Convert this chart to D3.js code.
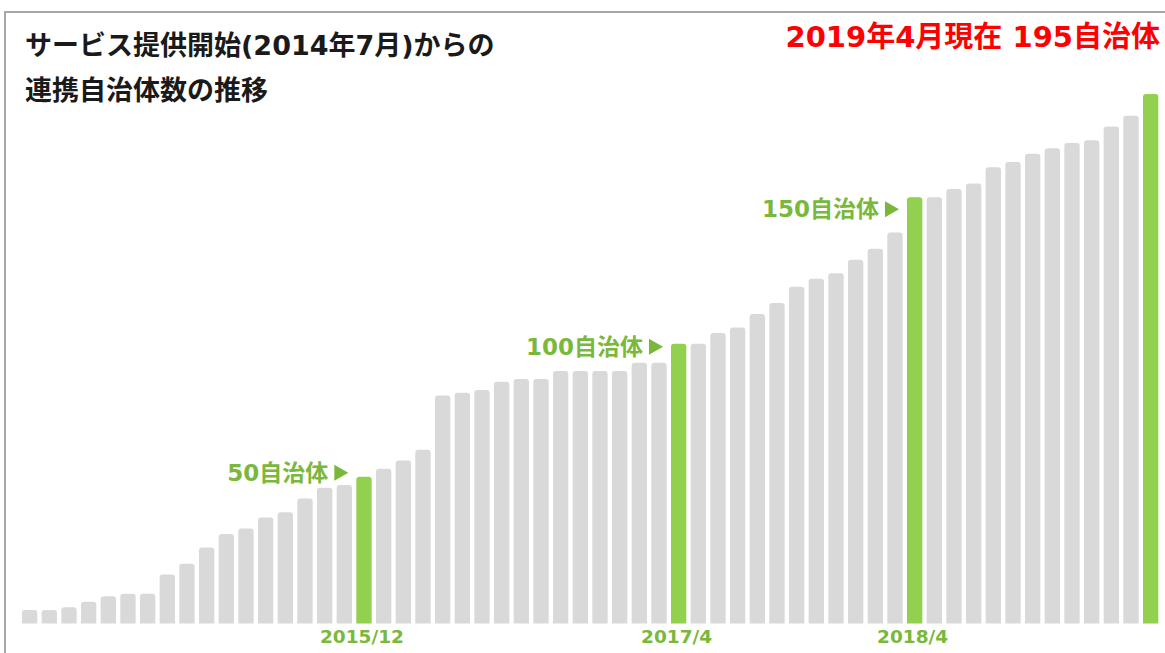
<!DOCTYPE html>
<html>
<head>
<meta charset="utf-8">
<title>連携自治体数の推移</title>
<style>
  body { margin: 0; background: #fff; }
  text { font-family: Verdana, "DejaVu Sans", "Noto Sans CJK JP", sans-serif; font-weight: bold; }
</style>
</head>
<body>
<script src="https://d3js.org/d3.v7.min.js"></script>
<script>
// months since service start (2014/7 .. 2019/4)
const months = [
  '2014/7','2014/8','2014/9','2014/10','2014/11','2014/12',
  '2015/1','2015/2','2015/3','2015/4','2015/5','2015/6','2015/7','2015/8','2015/9','2015/10','2015/11','2015/12',
  '2016/1','2016/2','2016/3','2016/4','2016/5','2016/6','2016/7','2016/8','2016/9','2016/10','2016/11','2016/12',
  '2017/1','2017/2','2017/3','2017/4','2017/5','2017/6','2017/7','2017/8','2017/9','2017/10','2017/11','2017/12',
  '2018/1','2018/2','2018/3','2018/4','2018/5','2018/6','2018/7','2018/8','2018/9','2018/10','2018/11','2018/12',
  '2019/1','2019/2','2019/3','2019/4'
];
// number of partner municipalities
const counts = [
  5, 5, 6, 8, 10, 11,
  11, 18, 22, 28, 33, 35, 39, 41, 46, 50, 51, 54,
  57, 60, 64, 84, 85, 86, 89, 90, 90, 93, 93, 93,
  93, 96, 96, 103, 103, 107, 109, 114, 118, 124, 127, 129,
  134, 138, 144, 157, 157, 160, 162, 168, 170, 173, 175, 177,
  178, 183, 187, 195
];
const highlight = ['2015/12', '2017/4', '2018/4', '2019/4'];
const milestoneMonths = ['2015/12', '2017/4', '2018/4'];
const milestoneTexts = ['50自治体', '100自治体', '150自治体'];
const axisTicks = ['2015/12', '2017/4', '2018/4'];

const W = 1165, H = 653;
const svg = d3.select('body').append('svg').attr('width', W).attr('height', H);

// frame
svg.append('line').attr('x1', 4).attr('x2', W).attr('y1', 12).attr('y2', 12)
  .attr('stroke', '#a6a6a6').attr('stroke-width', 2);
svg.append('line').attr('x1', 5).attr('x2', 5).attr('y1', 11).attr('y2', H)
  .attr('stroke', '#a6a6a6').attr('stroke-width', 2);

const x = d3.scaleBand().domain(months).range([19.8, 1160.5])
  .paddingInner(0.22).paddingOuter(0.11);
const y = d3.scaleLinear().domain([0, 195]).range([623.5, 94]);

// bar with rounded top corners
function barPath(d, i) {
  const x0 = x(months[i]), w = x.bandwidth(), y0 = y(d), yb = y(0), r = 3;
  return 'M' + x0 + ',' + yb +
    'V' + (y0 + r) + 'Q' + x0 + ',' + y0 + ' ' + (x0 + r) + ',' + y0 +
    'H' + (x0 + w - r) + 'Q' + (x0 + w) + ',' + y0 + ' ' + (x0 + w) + ',' + (y0 + r) +
    'V' + yb + 'Z';
}

svg.append('g').selectAll('path').data(counts).enter()
  .append('path')
  .attr('d', barPath)
  .attr('fill', (d, i) => highlight.includes(months[i]) ? '#92d050' : '#d9d9d9');

// milestone labels
const labelShift = [-4, 3, 12];
const labels = svg.append('g').selectAll('g').data(milestoneMonths).enter()
  .append('g')
  .attr('transform', (d, i) => 'translate(' + (x(d) - 8) + ',' +
    (y(counts[months.indexOf(d)]) + labelShift[i]) + ')');
labels.append('path')
  .attr('d', 'M-14,-8L0,0L-14,8Z')
  .attr('fill', '#7ab83c');
labels.append('text')
  .attr('x', -20)
  .attr('dy', '0.36em')
  .attr('text-anchor', 'end')
  .attr('font-size', 23)
  .attr('fill', '#7ab83c')
  .text((d, i) => milestoneTexts[i]);

// x axis (selected months only)
const xAxis = svg.append('g').attr('transform', 'translate(-2,' + 623.5 + ')')
  .call(d3.axisBottom(x).tickValues(axisTicks).tickSize(0).tickPadding(6));
xAxis.select('.domain').remove();
xAxis.selectAll('text').attr('font-size', 18.5).attr('fill', '#7ab83c')
  .style('font-family', 'Verdana, "DejaVu Sans", sans-serif').style('font-weight', 'bold');

// titles
svg.append('text').attr('x', 25).attr('y', 55).attr('font-size', 27).attr('fill', '#1a1a1a')
  .text('サービス提供開始(2014年7月)からの');
svg.append('text').attr('x', 25).attr('y', 100).attr('font-size', 27).attr('fill', '#1a1a1a')
  .text('連携自治体数の推移');
svg.append('text').attr('x', 1160).attr('y', 47).attr('font-size', 29).attr('fill', '#ff0000')
  .attr('text-anchor', 'end')
  .text('2019年4月現在 195自治体');
</script>
</body>
</html>
